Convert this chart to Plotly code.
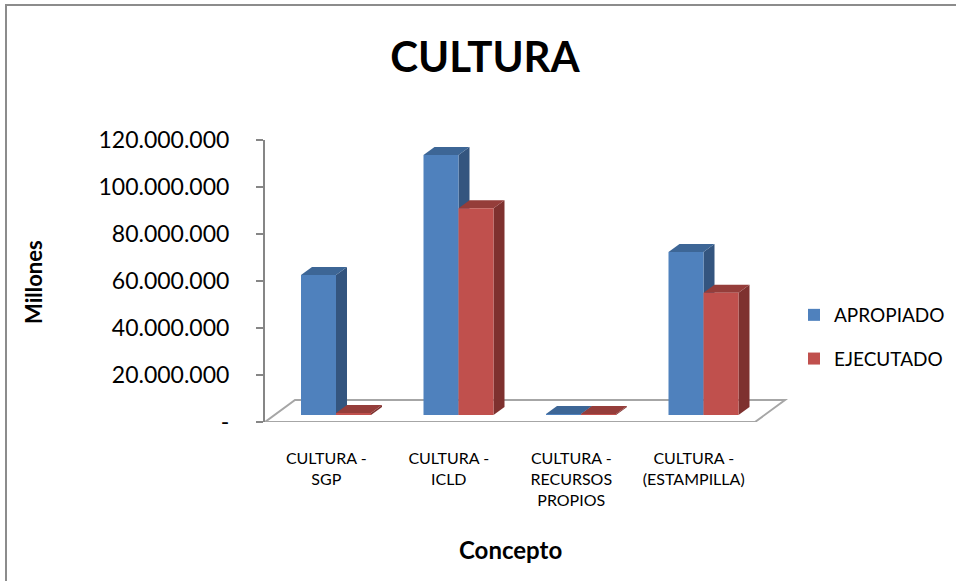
import plotly.graph_objects as go

# ---------------- data ----------------
categories = ["CULTURA -<br>SGP", "CULTURA -<br>ICLD",
              "CULTURA -<br>RECURSOS<br>PROPIOS", "CULTURA -<br>(ESTAMPILLA)"]
apropiado = [59.6e6, 110.6e6, 0.4e6, 69.4e6]
ejecutado = [0.9e6, 88.0e6, 0.4e6, 52.0e6]
series_names = ["APROPIADO", "EJECUTADO"]
y_tick_values = [0, 20e6, 40e6, 60e6, 80e6, 100e6, 120e6]
y_tick_labels = ["-", "20.000.000", "40.000.000", "60.000.000",
                 "80.000.000", "100.000.000", "120.000.000"]

# ---------------- styling / geometry ----------------
W, H = 956, 581
L, R, T, B = 265, 800, 140, 422          # plot area in px
cat_px = 122.5                           # px per category
x_lo = -0.5
x_hi = x_lo + (R - L) / cat_px
y_max = 120e6
ux = 1.0 / cat_px                        # data units per px (x)
uy = y_max / (B - T)                     # data units per px (y)

FONT = "Lato"
front_col = ["#4F81BD", "#C0504D"]
side_col = ["#34557F", "#7E312F"]
top_col = ["#3D6696", "#953D3A"]

bar_w = 35 * ux
offsets = [36 * ux - 0.5, 36 * ux - 0.5 + bar_w]
base = 7 * uy                 # perspective lift of bar base above floor front
bdx, bdy = 11 * ux, 8 * uy    # bar depth projection
fdx, fdy = 30 * ux, 22 * uy   # floor depth projection

fig = go.Figure()
values = [apropiado, ejecutado]
for s in range(2):
    fig.add_trace(go.Bar(
        x=list(range(len(categories))), y=values[s], base=base,
        width=bar_w, offset=offsets[s], name=series_names[s],
        marker=dict(color=front_col[s], line=dict(width=0)),
        legendgroup=series_names[s],
    ))

shapes = []
# floor
shapes.append(dict(
    type="path", xref="x", yref="y", layer="below",
    path=f"M {x_lo},0 L {3.5},0 L {3.5 + fdx},{fdy} L {x_lo + fdx},{fdy} Z",
    line=dict(color="#A6A6A6", width=2), fillcolor="rgba(0,0,0,0)"))
# 3D faces
for s in range(2):
    for k, v in enumerate(values[s]):
        xl = k + offsets[s]
        xr = xl + bar_w
        top = base + v
        shapes.append(dict(
            type="path", xref="x", yref="y", layer="below",
            path=f"M {xr},{base} L {xr + bdx},{base + bdy} L {xr + bdx},{top + bdy} L {xr},{top} Z",
            line=dict(width=0), fillcolor=side_col[s]))
        shapes.append(dict(
            type="path", xref="x", yref="y", layer="below",
            path=f"M {xl},{top} L {xr},{top} L {xr + bdx},{top + bdy} L {xl + bdx},{top + bdy} Z",
            line=dict(width=0), fillcolor=top_col[s]))

# outer border (left and top visible)
def px2paper_x(px):
    return (px - L) / (R - L)

def px2paper_y(py):
    return (B - py) / (B - T)

shapes.append(dict(
    type="rect", xref="paper", yref="paper", layer="above",
    x0=px2paper_x(6), x1=px2paper_x(W + 10),
    y0=px2paper_y(H + 10), y1=px2paper_y(5),
    line=dict(color="#8C8C8C", width=2), fillcolor="rgba(0,0,0,0)"))

annotations = [
    dict(text="<b>Millones</b>", xref="paper", yref="paper",
         x=px2paper_x(33), y=px2paper_y(282), textangle=-90,
         showarrow=False, font=dict(family=FONT, size=22, color="#000"),
         xanchor="center", yanchor="middle"),
    dict(text="<b>Concepto</b>", xref="paper", yref="paper",
         x=px2paper_x(510), y=px2paper_y(549),
         showarrow=False, font=dict(family=FONT, size=24, color="#000"),
         xanchor="center", yanchor="middle"),
]

fig.update_layout(
    width=W, height=H,
    paper_bgcolor="white", plot_bgcolor="rgba(0,0,0,0)",
    margin=dict(l=L, r=W - R, t=T, b=H - B, autoexpand=False),
    barmode="overlay",
    title=dict(text="<b>CULTURA</b>", x=485 / W, xanchor="center",
               y=1 - 57 / H, yanchor="middle", xref="container", yref="container",
               font=dict(family=FONT, size=42, color="#000")),
    xaxis=dict(range=[x_lo, x_hi], tickmode="array",
               tickvals=list(range(len(categories))), ticktext=categories,
               showline=False, showgrid=False, zeroline=False,
               ticks="outside", ticklen=22, tickcolor="rgba(0,0,0,0)",
               tickfont=dict(family=FONT, size=16, color="#000")),
    yaxis=dict(range=[0, y_max], tickmode="array",
               tickvals=y_tick_values, ticktext=y_tick_labels,
               showline=True, linecolor="#868686", linewidth=2,
               ticks="outside", ticklen=7, tickwidth=2, tickcolor="#868686",
               showgrid=False, zeroline=False, ticklabelstandoff=22,
               tickfont=dict(family=FONT, size=23, color="#000")),
    legend=dict(x=px2paper_x(794), xanchor="left",
                y=px2paper_y(296), yanchor="top",
                traceorder="grouped", tracegroupgap=16,
                font=dict(family=FONT, size=19, color="#000"),
                bgcolor="rgba(0,0,0,0)"),
    shapes=shapes, annotations=annotations,
    showlegend=True,
)

fig.write_html("out.html", config={"displayModeBar": False},
               post_script="document.body.style.margin='0';document.body.style.overflow='hidden';")
